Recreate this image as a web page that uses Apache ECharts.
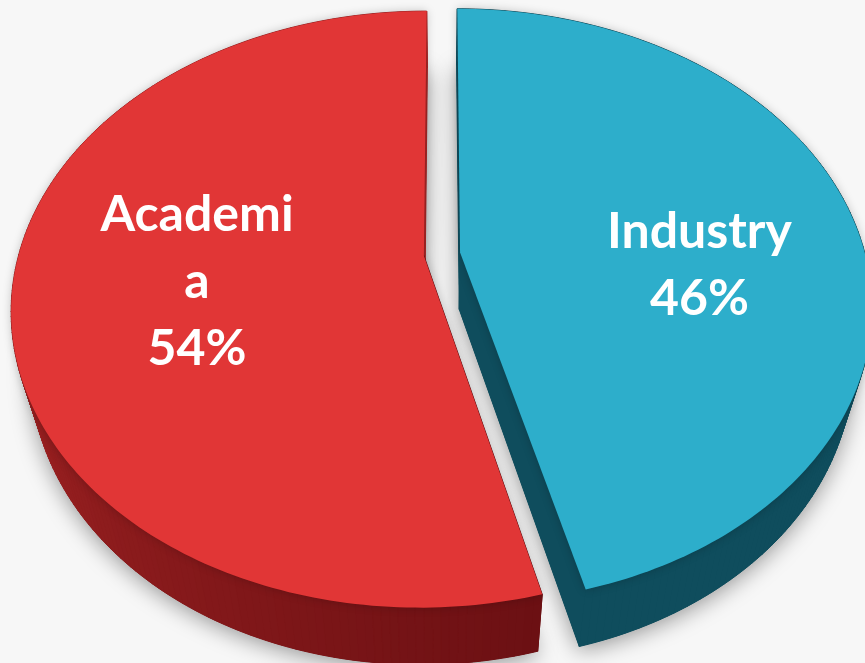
<!DOCTYPE html>
<html>
<head>
<meta charset="utf-8">
<script src="https://cdn.jsdelivr.net/npm/echarts@6/dist/echarts.min.js"></script>
<style>
html, body { margin: 0; padding: 0; background: #f7f7f7; }
#chart { width: 865px; height: 663px; }
</style>
</head>
<body>
<div id="chart"></div>
<script>
// data
var categories = ['Industry', 'Academia'];
var shares = [46, 54];
var percentLabels = ['46%', '54%'];

// looks
var topColors = ['#2daecb', '#e13636'];
var sideColors = [['#0f4d5d', '#0f4d5d'], ['#6b1013', '#a82525']];
var labelNudge = [[2, 34], [18, 4]];

// fake 3d projection of the tilted disc
var CX = 442, CY = 254, RX = 405, RY = 288, PERSP = 0.18, DEPTH = 57, BOTTOM_SCALE = 0.955;
var EXPLODE = 0.045, LABEL_R = 0.6;
var total = shares.reduce(function (a, b) { return a + b }, 0);

function project(u, v) {
	var w = 1 + PERSP * v
	return [CX + RX * u / w, CY - RY * v / w]
}

function mix(c1, c2, t) {
	var a = parseInt(c1.slice(1), 16), b = parseInt(c2.slice(1), 16)
	var r = Math.round(((a >> 16) & 255) * (1 - t) + ((b >> 16) & 255) * t)
	var g = Math.round(((a >> 8) & 255) * (1 - t) + ((b >> 8) & 255) * t)
	var bl = Math.round((a & 255) * (1 - t) + (b & 255) * t)
	return 'rgb(' + r + ',' + g + ',' + bl + ')'
}

function sideShade(i, ang) {
	var deg = ang * 180 / Math.PI
	var t = Math.min(1, Math.max(0, (deg - 165) / 105))
	return mix(sideColors[i][0], sideColors[i][1], t)
}

function renderItem(params, api) {
	var i = params.dataIndex
	var before = 0
	for (var k = 0; k < i; k++) before += shares[k]
	var a0 = before / total * 2 * Math.PI
	var a1 = (before + api.value(0)) / total * 2 * Math.PI
	var mid = (a0 + a1) / 2
	var ox = EXPLODE * Math.sin(mid), oy = EXPLODE * Math.cos(mid)

	var pts = [project(ox, oy)]
	var n = Math.ceil((a1 - a0) / (Math.PI / 180))
	for (var j = 0; j <= n; j++) {
		var t = a0 + (a1 - a0) * j / n
		pts.push(project(ox + Math.sin(t), oy + Math.cos(t)))
	}
	// bottom face: pushed down and pulled in a bit (perspective)
	var low = pts.map(function (p) { return [CX + (p[0] - CX) * BOTTOM_SCALE, p[1] + DEPTH] })

	var children = []
	// shadow under the slice
	children.push({
		type: 'polygon',
		shape: { points: low },
		style: { fill: sideColors[i][0], shadowBlur: 22, shadowColor: 'rgba(0,0,0,0.4)', shadowOffsetY: 4 }
	})
	// side walls
	var quads = []
	for (j = 0; j < pts.length; j++) {
		var q = (j + 1) % pts.length
		var ang
		if (j === 0) ang = a0
		else if (q === 0) ang = a1
		else ang = a0 + (a1 - a0) * (j - 0.5) / n
		quads.push({ p: [pts[j], pts[q], low[q], low[j]], ang: ang, y: (pts[j][1] + pts[q][1]) / 2 })
	}
	quads.sort(function (a, b) { return a.y - b.y })
	quads.forEach(function (qd) {
		var c = sideShade(i, qd.ang)
		children.push({
			type: 'polygon',
			shape: { points: qd.p },
			style: { fill: c, stroke: c, lineWidth: 1 }
		})
	})
	// top face
	children.push({
		type: 'polygon',
		shape: { points: pts },
		style: { fill: topColors[i], shadowBlur: 10, shadowColor: 'rgba(0,0,0,0.22)' }
	})
	// label
	var lp = project(ox + LABEL_R * Math.sin(mid), oy + LABEL_R * Math.cos(mid))
	children.push({
		type: 'text',
		x: lp[0] + labelNudge[i][0],
		y: lp[1] + labelNudge[i][1],
		style: {
			text: categories[i] + '\n' + percentLabels[i],
			fill: '#ffffff',
			font: 'bold 50px Lato',
			align: 'center',
			verticalAlign: 'middle',
			lineHeight: 67,
			width: 206,
			overflow: 'breakAll'
		}
	})
	return { type: 'group', children: children }
}

var chart = echarts.init(document.getElementById('chart'))
chart.setOption({
	backgroundColor: '#f7f7f7',
	animation: false,
	series: [
		{
			type: 'custom',
			coordinateSystem: 'none',
			renderItem: renderItem,
			data: shares.map(function (v) { return [v] })
		}
	]
})
</script>
</body>
</html>
